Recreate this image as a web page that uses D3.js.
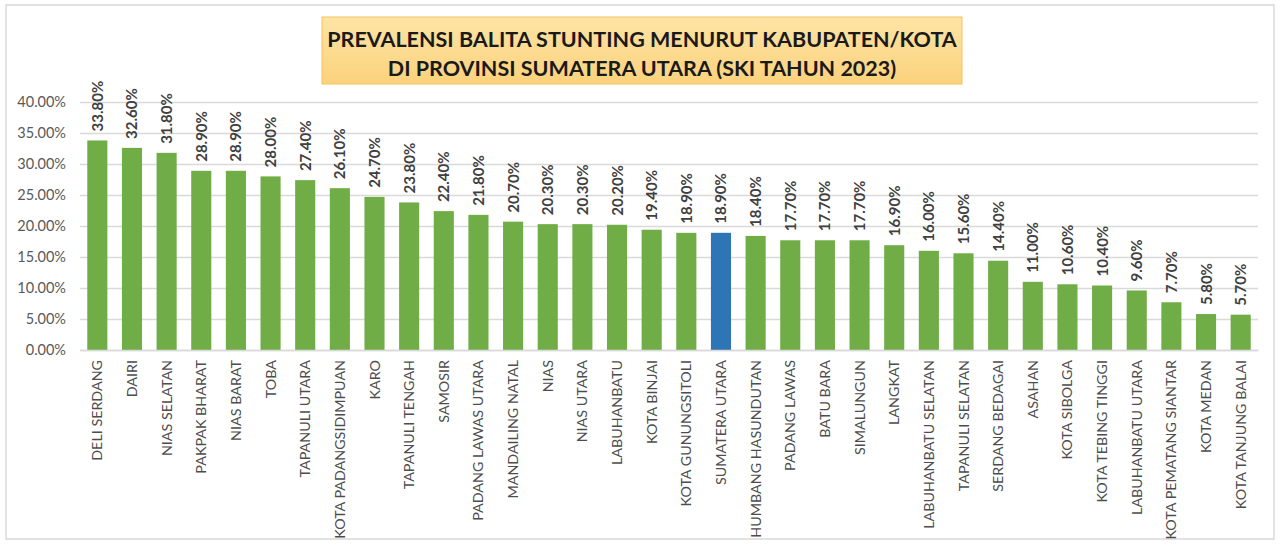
<!DOCTYPE html>
<html>
<head>
<meta charset="utf-8">
<script src="https://cdn.jsdelivr.net/npm/d3@7"></script>
<style>
  body { margin: 0; background: #fff; }
  svg { font-family: Lato, "Open Sans", sans-serif; }
</style>
</head>
<body>
<svg width="1280" height="547"></svg>
<script>
// data
var regions = ["DELI SERDANG", "DAIRI", "NIAS SELATAN", "PAKPAK BHARAT", "NIAS BARAT", "TOBA",
  "TAPANULI UTARA", "KOTA PADANGSIDIMPUAN", "KARO", "TAPANULI TENGAH", "SAMOSIR",
  "PADANG LAWAS UTARA", "MANDAILING NATAL", "NIAS", "NIAS UTARA", "LABUHANBATU",
  "KOTA BINJAI", "KOTA GUNUNGSITOLI", "SUMATERA UTARA", "HUMBANG HASUNDUTAN",
  "PADANG LAWAS", "BATU BARA", "SIMALUNGUN", "LANGKAT", "LABUHANBATU SELATAN",
  "TAPANULI SELATAN", "SERDANG BEDAGAI", "ASAHAN", "KOTA SIBOLGA", "KOTA TEBING TINGGI",
  "LABUHANBATU UTARA", "KOTA PEMATANG SIANTAR", "KOTA MEDAN", "KOTA TANJUNG BALAI"]
var prevalence = [33.8, 32.6, 31.8, 28.9, 28.9, 28.0, 27.4, 26.1, 24.7, 23.8, 22.4,
  21.8, 20.7, 20.3, 20.3, 20.2, 19.4, 18.9, 18.9, 18.4, 17.7, 17.7, 17.7, 16.9, 16.0,
  15.6, 14.4, 11.0, 10.6, 10.4, 9.6, 7.7, 5.8, 5.7]
var yTicks = [0, 5, 10, 15, 20, 25, 30, 35, 40]
var provinceName = "SUMATERA UTARA"
var titleLines = ["PREVALENSI BALITA STUNTING MENURUT KABUPATEN/KOTA",
  "DI PROVINSI SUMATERA UTARA (SKI TAHUN 2023)"]

var svg = d3.select("svg")
var plot = {left: 80, right: 1258, top: 102, bottom: 350}

// outer frame
svg.append("rect")
    .attr("x", 6).attr("y", 5)
    .attr("width", 1268).attr("height", 534)
    .attr("fill", "#fff")
    .attr("stroke", "#d9d9d9")
    .attr("stroke-width", 1.5)

var xScale = d3.scaleBand()
    .domain(regions)
    .range([plot.left, plot.right])
    .paddingInner(0.42)
    .paddingOuter(0.21)

var yScale = d3.scaleLinear()
    .domain([0, 40])
    .range([plot.bottom, plot.top])

// gridlines + y labels
var yAxis = d3.axisLeft(yScale)
    .tickValues(yTicks)
    .tickSize(-(plot.right - plot.left))
    .tickPadding(14)
    .tickFormat(function(d) { return d.toFixed(2) + "%" })

svg.append("g")
    .attr("transform", "translate(" + plot.left + ",0)")
    .call(yAxis)
    .call(function(g) {
        g.select(".domain").remove()
        g.selectAll(".tick line").attr("stroke", "#d9d9d9").attr("stroke-width", 1.3)
        g.selectAll(".tick text")
            .attr("fill", "#595959")
            .attr("font-size", "14.5px")
            .attr("font-family", "Lato, sans-serif")
    })

// bars
svg.append("g").selectAll("rect")
    .data(regions)
    .enter()
    .append("rect")
    .attr("x", function(d) { return xScale(d) })
    .attr("width", xScale.bandwidth())
    .attr("y", function(d, i) { return yScale(prevalence[i]) })
    .attr("height", function(d, i) { return yScale(0) - yScale(prevalence[i]) })
    .attr("fill", function(d) { return d == provinceName ? "#2e75b6" : "#70ad47" })

// value labels
svg.append("g").selectAll("text")
    .data(regions)
    .enter()
    .append("text")
    .attr("transform", function(d, i) {
        var cx = xScale(d) + xScale.bandwidth() / 2
        return "translate(" + (cx + 5.5) + "," + (yScale(prevalence[i]) - 9) + ") rotate(-90)"
    })
    .attr("font-size", "15px")
    .attr("font-weight", "bold")
    .attr("fill", "#404040")
    .text(function(d, i) { return prevalence[i].toFixed(2) + "%" })

// category labels
var xAxis = d3.axisBottom(xScale).tickSize(0).tickPadding(0)
svg.append("g")
    .attr("transform", "translate(0," + plot.bottom + ")")
    .call(xAxis)
    .call(function(g) {
        g.select(".domain").attr("stroke", "#d9d9d9").attr("stroke-width", 1.3)
        g.selectAll(".tick text")
            .attr("transform", "translate(5,10) rotate(-90)")
            .attr("text-anchor", "end")
            .attr("dy", 0)
            .attr("y", 0)
            .attr("fill", "#4d4d4d")
            .attr("font-size", "14.3px")
            .attr("font-family", "Lato, sans-serif")
    })

// title box
var tb = {x: 322, y: 17, w: 640, h: 67}
var grad = svg.append("defs").append("linearGradient")
    .attr("id", "titleFill").attr("x1", 0).attr("y1", 0).attr("x2", 0).attr("y2", 1)
grad.append("stop").attr("offset", "0%").attr("stop-color", "#fde4a6")
grad.append("stop").attr("offset", "100%").attr("stop-color", "#fbd27c")

svg.append("rect")
    .attr("x", tb.x).attr("y", tb.y)
    .attr("width", tb.w).attr("height", tb.h)
    .attr("fill", "url(#titleFill)")
    .attr("stroke", "#f6c25a")
    .attr("stroke-width", 1)

svg.append("g").selectAll("text")
    .data(titleLines)
    .enter()
    .append("text")
    .attr("x", tb.x + tb.w / 2)
    .attr("y", function(d, i) { return 47 + i * 29 })
    .attr("text-anchor", "middle")
    .attr("font-size", "21.5px")
    .attr("font-weight", "bold")
    .attr("fill", "#1a1a1a")
    .text(function(d) { return d })
</script>
</body>
</html>
